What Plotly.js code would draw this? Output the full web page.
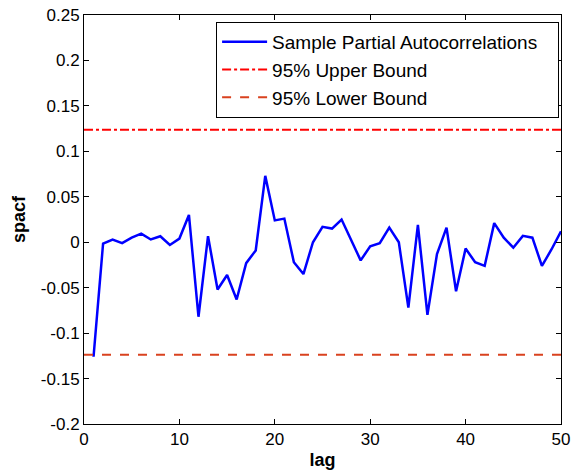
<!DOCTYPE html>
<html>
<head>
<meta charset="utf-8">
<script src="https://cdn.plot.ly/plotly-3.0.1.min.js"></script>
<style>html,body{margin:0;padding:0;background:#fff;}#chart{width:578px;height:473px;}</style>
</head>
<body>
<div id="chart"></div>
<script>
const lags = [1,2,3,4,5,6,7,8,9,10,11,12,13,14,15,16,17,18,19,20,21,22,23,24,25,26,27,28,29,30,31,32,33,34,35,36,37,38,39,40,41,42,43,44,45,46,47,48,49,50];
const spacf = [-0.126,-0.0015,0.003,-0.001,0.005,0.0095,0.003,0.0066,-0.003,0.004,
  0.030,-0.082,0.0066,-0.052,-0.036,-0.063,-0.023,-0.009,0.073,0.024,
  0.026,-0.022,-0.035,0.0,0.017,0.015,0.025,0.002,-0.020,-0.0045,
  -0.001,0.016,0.0,-0.072,0.019,-0.080,-0.013,0.016,-0.054,-0.007,
  -0.022,-0.026,0.021,0.005,-0.006,0.007,0.005,-0.026,-0.008,0.012];
const boundX = [0, 50];
const upperBound = [0.1237, 0.1237];
const lowerBound = [-0.1237, -0.1237];
const xTicks = [0,10,20,30,40,50];
const yTicks = [-0.2,-0.15,-0.1,-0.05,0,0.05,0.1,0.15,0.2,0.25];
const yTickText = ['-0.2','-0.15','-0.1','-0.05','0','0.05','0.1','0.15','0.2','0.25'];
const seriesNames = ['Sample Partial Autocorrelations\u00a0\u00a0\u00a0', '95% Upper Bound', '95% Lower Bound'];

const font = 'Liberation Sans, Arial, Helvetica, sans-serif';
const data = [
  {x: lags, y: spacf, type: 'scatter', mode: 'lines', name: seriesNames[0],
   line: {color: '#0000ff', width: 2.5}},
  {x: boundX, y: upperBound, type: 'scatter', mode: 'lines', name: seriesNames[1],
   line: {color: '#ff0000', width: 2, dash: 'dashdot'}},
  {x: boundX, y: lowerBound, type: 'scatter', mode: 'lines', name: seriesNames[2],
   line: {color: '#d9421f', width: 2, dash: 'dash'}}
];
const axisCommon = {showgrid: false, zeroline: false, showline: true, linecolor: '#000', linewidth: 1,
  mirror: 'ticks', ticks: 'inside', ticklen: 5, tickcolor: '#000',
  tickfont: {family: font, size: 17, color: '#000'}};
const layout = {
  width: 578, height: 473,
  margin: {l: 84, r: 17, t: 15, b: 49},
  paper_bgcolor: '#fff', plot_bgcolor: '#fff',
  showlegend: true,
  legend: {x: 0.996, xanchor: 'right', y: 0.983, yanchor: 'top', bgcolor: '#fff',
    bordercolor: '#000', borderwidth: 1, font: {family: font, size: 19, color: '#000'},
    itemwidth: 45, tracegroupgap: 0},
  xaxis: Object.assign({}, axisCommon, {range: [0, 50], tickvals: xTicks,
    title: {text: '<b>lag</b>', font: {family: font, size: 18, color: '#000'}, standoff: 4}}),
  yaxis: Object.assign({}, axisCommon, {range: [-0.2, 0.25], tickvals: yTicks, ticktext: yTickText,
    title: {text: '<b>spacf</b>', font: {family: font, size: 18, color: '#000'}, standoff: 10}})
};
Plotly.newPlot('chart', data, layout, {displayModeBar: false, staticPlot: true});
</script>
</body>
</html>
